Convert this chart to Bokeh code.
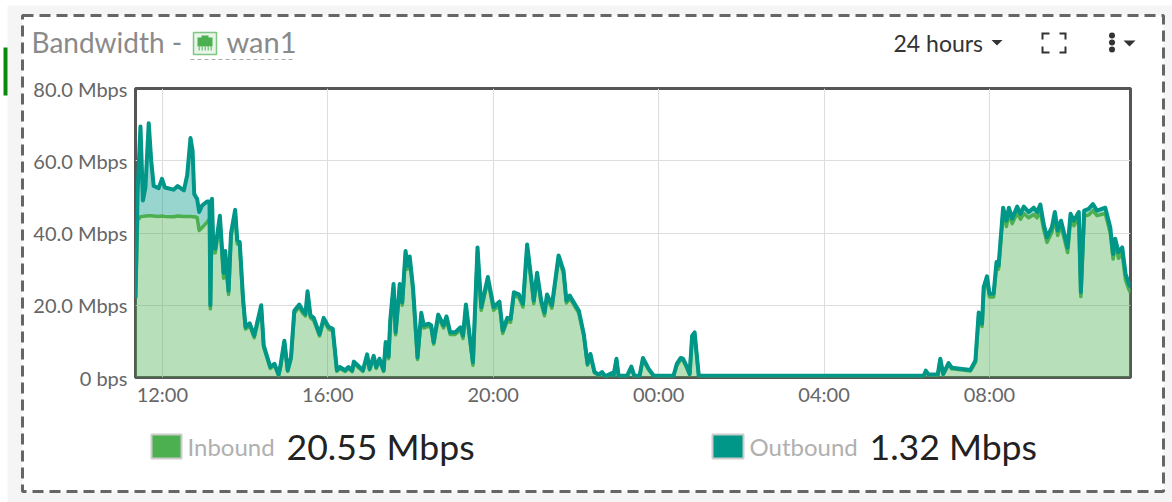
from bokeh.plotting import figure
from bokeh.embed import file_html
from bokeh.resources import INLINE
from bokeh.core.properties import value
from bokeh.models import Range1d, FixedTicker

FONT = "Lato"
title_left = "Bandwidth -"
title_port = "wan1"
period_label = "24 hours"
y_ticks = [0, 20, 40, 60, 80]
y_labels = ["0 bps", "20.0 Mbps", "40.0 Mbps", "60.0 Mbps", "80.0 Mbps"]
x_ticks = [12, 16, 20, 24, 28, 32]
x_labels = ["12:00", "16:00", "20:00", "00:00", "04:00", "08:00"]
series_names = ["Inbound", "Outbound"]
series_now = ["20.55 Mbps", "1.32 Mbps"]
INBOUND = "#4CAF50"
OUTBOUND = "#009688"

# hours counted from midnight of the first day (24 = 00:00, 32 = 08:00)
hours = [
    11.35,11.40,11.47,11.53,11.59,11.67,11.73,11.79,11.91,11.99,
    12.06,12.27,12.37,12.52,12.60,12.68,12.73,12.77,12.84,12.89,
    12.96,13.08,13.14,13.16,13.20,13.23,13.28,13.39,13.48,13.52,
    13.60,13.66,13.76,13.81,13.87,13.95,14.01,14.11,14.22,14.39,
    14.45,14.61,14.71,14.81,14.85,14.95,15.03,15.11,15.19,15.31,
    15.40,15.46,15.51,15.58,15.66,15.80,15.90,16.02,16.12,16.22,
    16.29,16.42,16.50,16.59,16.63,16.85,16.95,17.01,17.11,17.17,
    17.25,17.35,17.40,17.47,17.51,17.59,17.64,17.74,17.80,17.88,
    17.93,17.98,18.06,18.17,18.26,18.32,18.44,18.50,18.56,18.67,
    18.80,18.87,18.96,19.08,19.21,19.27,19.34,19.43,19.51,19.62,
    19.71,19.87,20.01,20.15,20.23,20.34,20.42,20.50,20.62,20.72,
    20.82,20.94,20.98,21.06,21.16,21.24,21.30,21.42,21.58,21.70,
    21.77,21.85,22.07,22.19,22.28,22.35,22.45,22.55,22.63,22.71,
    22.87,22.91,22.98,23.03,23.24,23.34,23.41,23.54,23.62,23.76,
    23.88,24.36,24.44,24.53,24.59,24.67,24.75,24.81,24.87,24.97,
    30.41,30.46,30.53,30.75,30.81,30.88,31.01,31.09,31.54,31.66,
    31.74,31.82,31.86,31.94,32.00,32.10,32.17,32.22,32.33,32.41,
    32.47,32.55,32.67,32.75,32.83,32.95,33.07,33.15,33.23,33.31,
    33.39,33.51,33.58,33.65,33.73,33.89,33.96,34.04,34.16,34.21,
    34.29,34.40,34.50,34.60,34.80,34.92,34.99,35.04,35.12,35.21,
    35.29,35.37,35.41,
]
outbound = [
    22,51,69.5,49,52.6,70.4,60,53,52.4,55,
    52.6,52,53,51.8,56,66.3,62.8,50.8,49.4,45.8,
    47.6,48.7,48.7,20,49.5,36,35.7,44.8,29,35,
    24,40,46.4,38,37.5,22,14,15,11.6,20,
    8.9,2.9,3.8,0.8,2.9,10.2,2,5.6,18.5,20.2,
    18.4,17.6,23.9,17.2,16.5,12,16.5,14,13.5,2,
    2.9,2,2.9,1.9,4.4,2,6.4,2.4,6,2.9,
    5.2,2,9.8,5.8,15.8,25.9,12.5,25.9,20.8,35,
    31,33.5,25,5.6,17.9,14.4,14.9,14.4,9.8,17.4,
    14.4,16.9,12.5,12.5,13.9,11.6,20.2,11.6,4.2,36,
    19.5,27.8,19.5,21,13,16.5,16.2,23.6,23,20.4,
    36.8,25.5,21.3,29,21.3,18,23,20,33.8,29.6,
    21.3,22.7,18.5,12,3.8,6.5,1.5,0.8,1.5,0.3,
    1.2,0.5,5.2,0.5,0.5,3,0.5,0.5,5.4,2.4,
    0.5,0.5,3.8,5.4,5.2,3.3,1,11.6,12.5,0.5,
    0.5,1.9,0.8,0.8,5.2,1,4,2.7,2.1,4.7,
    18,14.9,25,28,23.2,23.2,32,31,47,43.4,
    47,44,47.3,45.3,47.3,45.8,47,45.8,47.9,42.5,
    38.8,41.6,45.8,40.7,43.4,36,45.3,43.4,45.8,23.6,
    46.2,46.7,48,46.2,47,41.6,34.2,38.4,34.7,36,
    28.7,26,25,
]
inbound = [
    22,43.5,44.5,44.6,44.7,44.8,44.8,44.7,44.6,44.7,
    44.6,44.5,44.7,44.6,44.6,44.6,44.5,44.5,44.3,40.7,
    41.5,43,44,19,46,34.5,34.5,43.5,27.5,33.8,
    23,39,45.2,37,36.5,21,13.4,14.4,11,19.3,
    8.4,2.5,3.4,0.5,2.5,9.6,1.7,5.1,17.8,19.5,
    17.7,17,23,16.5,15.8,11.5,15.8,13.4,12.9,1.7,
    2.5,1.7,2.5,1.6,3.9,1.7,5.8,2.1,5.4,2.5,
    4.7,1.7,9.2,5.2,15,25,11.8,25,20,34,
    30,32.5,24,5,17,13.7,14.2,13.7,9.2,16.6,
    13.7,16.1,11.9,11.9,13.2,10.8,19.4,10.9,3.4,35,
    18.6,26.9,18.6,20.1,12.2,15.6,15.3,22.7,22.2,19.5,
    35.8,24.6,20.4,28,20.5,17.1,22.1,19.2,33,28.8,
    20.6,22,17.8,11.5,3.4,6,1.3,0.6,1.3,0.2,
    1,0.4,4.8,0.4,0.4,2.7,0.4,0.4,5,2.1,
    0.4,0.4,3.3,4.9,4.7,2.9,0.8,11,11.8,0.4,
    0.4,1.6,0.7,0.7,4.7,0.8,3.6,2.4,1.8,4.2,
    17.2,14.1,24,27,22.3,22.3,31,30,45.5,41.8,
    45.3,42.6,45.6,43.8,45.4,44.2,45.1,44.2,46,41,
    37.4,40.2,44,39.3,42,34.6,43.8,42,44.3,22.4,
    44.6,45,46.2,44.8,45.4,40,32.8,37,33,34.2,
    27,24.4,23.5,
]

# ---------- back sheet: card, title row, legend row (its ranges are page pixels) ----------
bg = figure(width=1172, height=502, output_backend="svg", toolbar_location=None,
            x_range=Range1d(0, 1172), y_range=Range1d(502, 0),
            x_axis_location=None, y_axis_location=None, min_border=0,
            border_fill_color="white", background_fill_color="white", outline_line_color=None)
bg.grid.visible = False

def box(l, t, r, b, fill, line=None, width=1, dash="solid"):
    bg.quad(left=[l], right=[r], top=[t], bottom=[b], fill_color=fill, fill_alpha=1 if fill else 0,
            line_color=line, line_width=width, line_dash=dash)

def label(x, y, text, size, color):
    bg.text(x=[x], y=[y], text=[text], text_font=value(FONT), text_font_size=value(size),
            text_color=color, text_align="left", text_baseline="middle")

def caret(cx, cy, half, color="#333333"):
    bg.patch([cx - half, cx + half, cx], [cy, cy, cy + half], fill_color=color, line_color=None)

box(7, 5, 1172, 502, "#f5f5f5")
box(3, 47, 7, 95, "#0a8a0a")
box(22, 15, 1163, 491, "white", "#666666", 3, "11 6")

label(31, 41, title_left, "28px", "#8a8a8a")
label(226, 41, title_port, "29px", "#8a8a8a")
box(193, 32, 216, 54, "#e8f5e9", "#81c784", 1.5)
box(197, 37, 212, 46, "#4caf50")
box(201, 35, 208, 38, "#4caf50")
for cx in (198, 201, 204, 207, 210):
    box(cx, 46, cx + 1.5, 50, "#81c784")
bg.line([190, 295], [59, 59], line_color="#aaaaaa", line_width=1, line_dash="4 3")

label(893, 42, period_label, "23px", "#333333")
caret(996.5, 39.5, 5.5)
for xs, ys in [
    ([1042, 1042, 1049], [39, 33, 33]),
    ([1059, 1065, 1065], [33, 33, 39]),
    ([1042, 1042, 1049], [46, 52, 52]),
    ([1059, 1065, 1065], [52, 52, 46]),
]:
    bg.line(xs, ys, line_color="#333333", line_width=2, line_join="miter")
bg.scatter([1111.5] * 3, [35, 42, 49], size=6, marker="circle", fill_color="#333333", line_color=None)
caret(1129, 40, 6)

for sw_l, sw_r, name, name_x, val, val_x, col in [
    (151, 181, series_names[0], 187, series_now[0], 286, INBOUND),
    (712, 743, series_names[1], 749, series_now[1], 869, OUTBOUND),
]:
    box(sw_l, 434, sw_r, 458, col, "#cccccc", 2)
    label(name_x, 446, name, "24px", "#b0b0b0")
    label(val_x, 446, val, "35.6px", "#222222")

# ---------- the chart, laid exactly over the sheet ----------
p = figure(width=1172, height=502, output_backend="svg", toolbar_location=None,
           x_range=Range1d(11.35, 35.41), y_range=Range1d(0, 80),
           min_border_left=135, min_border_right=42, min_border_top=88, min_border_bottom=125,
           border_fill_color=None, background_fill_color=None,
           outline_line_color="#555555", outline_line_width=3,
           styles={"position": "absolute", "left": "0px", "top": "0px"})

p.xaxis.ticker = FixedTicker(ticks=x_ticks)
p.yaxis.ticker = FixedTicker(ticks=y_ticks)
p.xaxis.major_label_overrides = dict(zip(x_ticks, x_labels))
p.yaxis.major_label_overrides = dict(zip(y_ticks, y_labels))
for ax in (p.xaxis[0], p.yaxis[0]):
    ax.axis_line_color = None
    ax.major_tick_line_color = None
    ax.major_tick_out = 0
    ax.minor_tick_line_color = None
    ax.major_label_text_font = FONT
    ax.major_label_text_font_size = "20px"
    ax.major_label_text_color = "#666666"
p.xaxis.major_label_standoff = 4
p.yaxis.major_label_standoff = 8
p.grid.grid_line_color = "#dddddd"
p.grid.grid_line_width = 1
p.xgrid.ticker = FixedTicker(ticks=x_ticks)
p.ygrid.ticker = FixedTicker(ticks=y_ticks)

p.varea(hours, y1=0, y2=inbound, fill_color=INBOUND, fill_alpha=0.4)
p.varea(hours, y1=inbound, y2=outbound, fill_color=OUTBOUND, fill_alpha=0.4)
p.line(hours, inbound, line_color=INBOUND, line_width=3.5, line_join="round")
p.line(hours, outbound, line_color=OUTBOUND, line_width=4, line_join="round")

open("out.html", "w").write(file_html([bg, p], INLINE))
